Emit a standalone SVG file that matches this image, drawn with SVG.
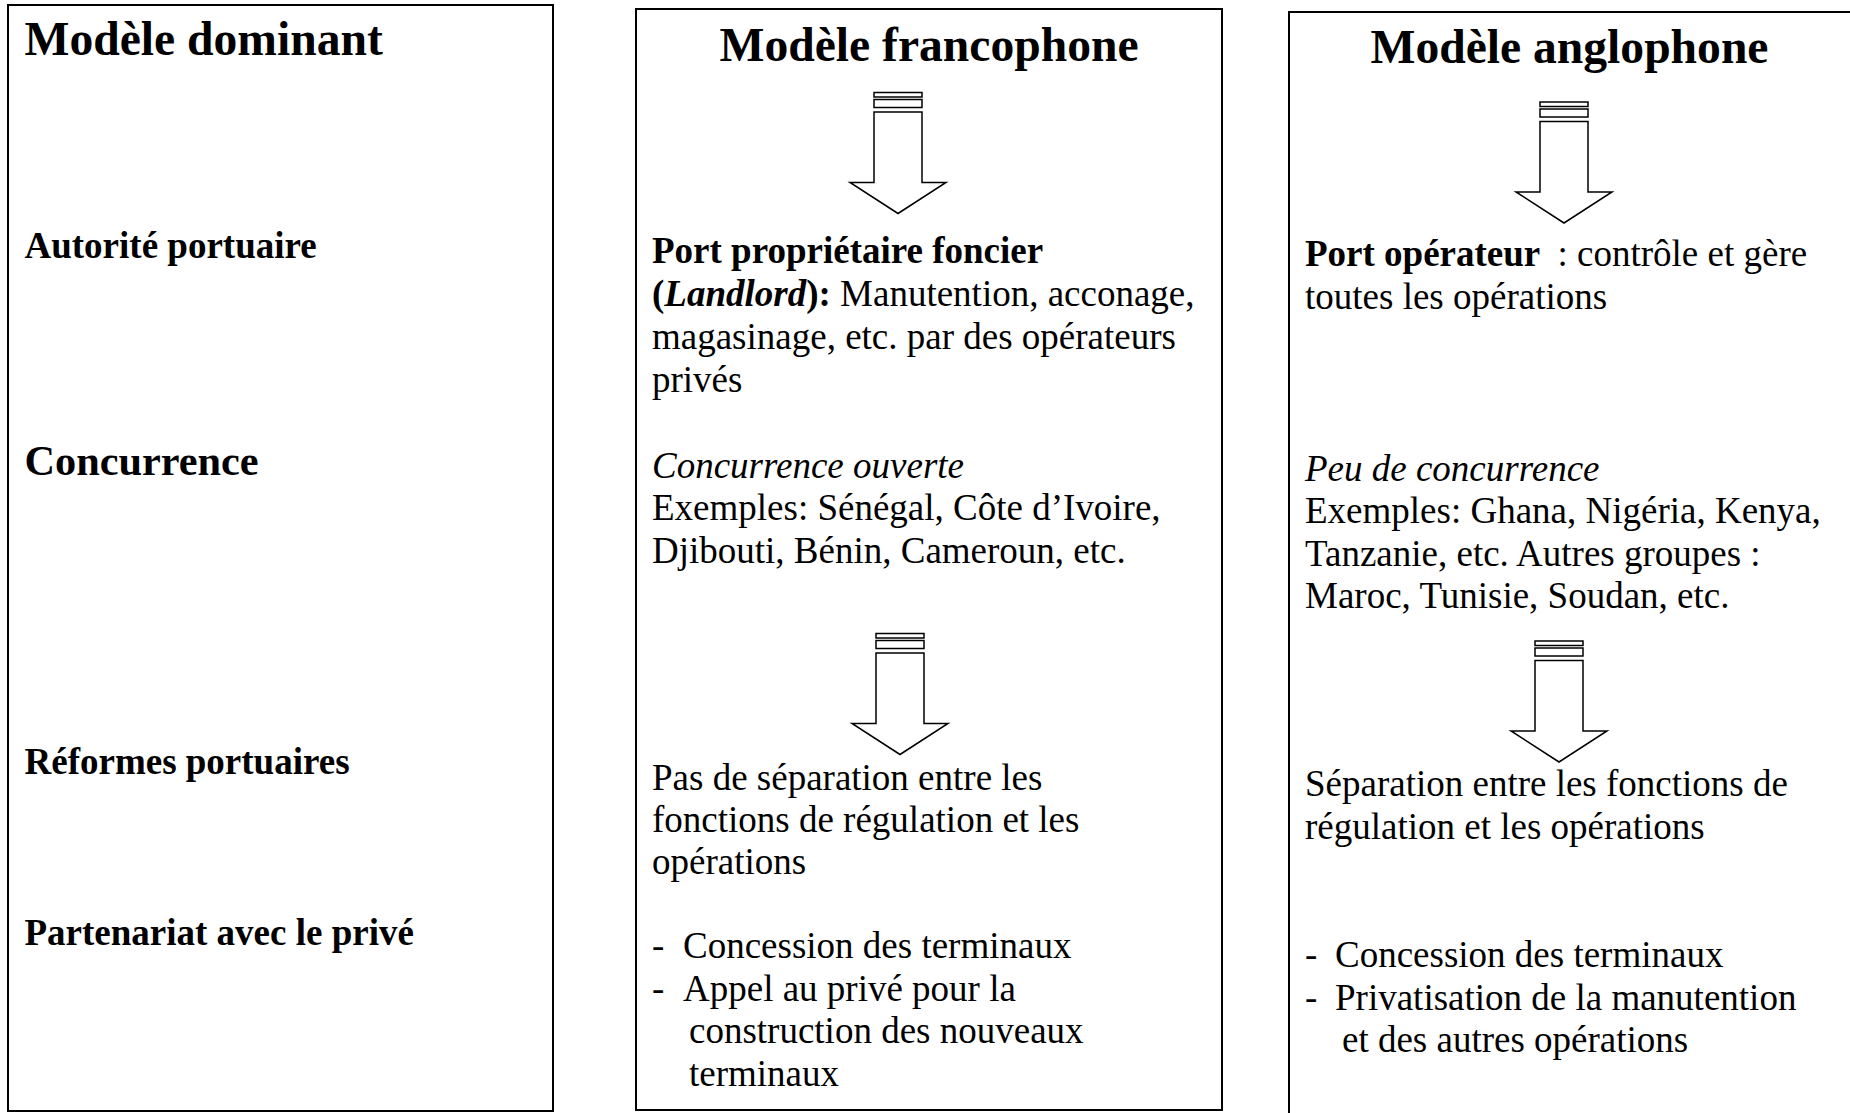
<svg xmlns="http://www.w3.org/2000/svg" xmlns:xlink="http://www.w3.org/1999/xlink" width="1850" height="1113" viewBox="0 0 1850 1113">
  <style>
    .box { fill: none; stroke: #000; stroke-width: 2; }
    .arrow rect, .arrow path { fill: #fff; stroke: #000; stroke-width: 1.5; stroke-linejoin: miter; }
    text { font-family: "Liberation Serif", "Times New Roman", serif; fill: #000; }
    .title { font-size: 47.6px; font-weight: bold; }
    .label { font-size: 37px; font-weight: bold; }
    .label-lg { font-size: 42.3px; font-weight: bold; }
    .body { font-size: 37px; }
    .b { font-weight: bold; }
    .i { font-style: italic; }
  </style>
  <defs>
    <!-- striped block arrow pointing down; origin = top centre -->
    <g id="striped-arrow" class="arrow">
      <rect x="-24" y="0" width="48" height="4.5"/>
      <rect x="-24" y="7" width="48" height="8"/>
      <path d="M-24,19.5 H24 V90 H48 L0,121 L-48,90 H-24 Z"/>
    </g>
  </defs>

  <rect width="1850" height="1113" fill="#fff"/>

  <!-- left column: row headings -->
  <g id="node-dominant">
    <rect class="box" x="8" y="5" width="545" height="1106"/>
    <text class="title" x="24.5" y="55">Modèle dominant</text>
    <text class="label" x="24.5" y="258">Autorité portuaire</text>
    <text class="label-lg" x="24.5" y="475">Concurrence</text>
    <text class="label" x="24.5" y="774">Réformes portuaires</text>
    <text class="label" x="24.5" y="945">Partenariat avec le privé</text>
  </g>

  <!-- middle column -->
  <g id="node-francophone">
    <rect class="box" x="636" y="9" width="586" height="1101"/>
    <text class="title" x="929" y="61" text-anchor="middle">Modèle francophone</text>
    <text class="body" x="652" y="263"><tspan class="b">Port propriétaire foncier</tspan></text>
    <text class="body" x="652" y="306"><tspan class="b">(</tspan><tspan class="b i">Landlord</tspan><tspan class="b">):</tspan> Manutention, acconage,</text>
    <text class="body" x="652" y="349">magasinage, etc. par des opérateurs</text>
    <text class="body" x="652" y="392">privés</text>
    <text class="body i" x="652" y="477.5">Concurrence ouverte</text>
    <text class="body" x="652" y="520">Exemples: Sénégal, Côte d’Ivoire,</text>
    <text class="body" x="652" y="562.5">Djibouti, Bénin, Cameroun, etc.</text>
    <text class="body" x="652" y="790">Pas de séparation entre les</text>
    <text class="body" x="652" y="832">fonctions de régulation et les</text>
    <text class="body" x="652" y="874">opérations</text>
    <text class="body" y="958"><tspan x="652">-</tspan><tspan x="683">Concession des terminaux</tspan></text>
    <text class="body" y="1000.5"><tspan x="652">-</tspan><tspan x="683">Appel au privé pour la</tspan></text>
    <text class="body" x="689" y="1043">construction des nouveaux</text>
    <text class="body" x="689" y="1085.5">terminaux</text>
  </g>

  <!-- right column -->
  <g id="node-anglophone">
    <rect class="box" x="1289" y="12" width="600" height="1200"/>
    <text class="title" x="1569.5" y="63" text-anchor="middle">Modèle anglophone</text>
    <text class="body" x="1305" y="266"><tspan class="b">Port opérateur</tspan><tspan dx="8"> : contrôle et gère</tspan></text>
    <text class="body" x="1305" y="309">toutes les opérations</text>
    <text class="body i" x="1305" y="480.5">Peu de concurrence</text>
    <text class="body" x="1305" y="523">Exemples: Ghana, Nigéria, Kenya,</text>
    <text class="body" x="1305" y="565.5">Tanzanie, etc. Autres groupes :</text>
    <text class="body" x="1305" y="608">Maroc, Tunisie, Soudan, etc.</text>
    <text class="body" x="1305" y="796">Séparation entre les fonctions de</text>
    <text class="body" x="1305" y="838.5">régulation et les opérations</text>
    <text class="body" y="967"><tspan x="1305">-</tspan><tspan x="1335">Concession des terminaux</tspan></text>
    <text class="body" y="1009.5"><tspan x="1305">-</tspan><tspan x="1335">Privatisation de la manutention</tspan></text>
    <text class="body" x="1342" y="1052">et des autres opérations</text>
  </g>

  <!-- connectors: striped down arrows -->
  <g id="connectors">
    <use xlink:href="#striped-arrow" href="#striped-arrow" transform="translate(898,92.5)"/>
    <use xlink:href="#striped-arrow" href="#striped-arrow" transform="translate(900,633.5)"/>
    <use xlink:href="#striped-arrow" href="#striped-arrow" transform="translate(1564,102)"/>
    <use xlink:href="#striped-arrow" href="#striped-arrow" transform="translate(1559,641)"/>
  </g>
</svg>
